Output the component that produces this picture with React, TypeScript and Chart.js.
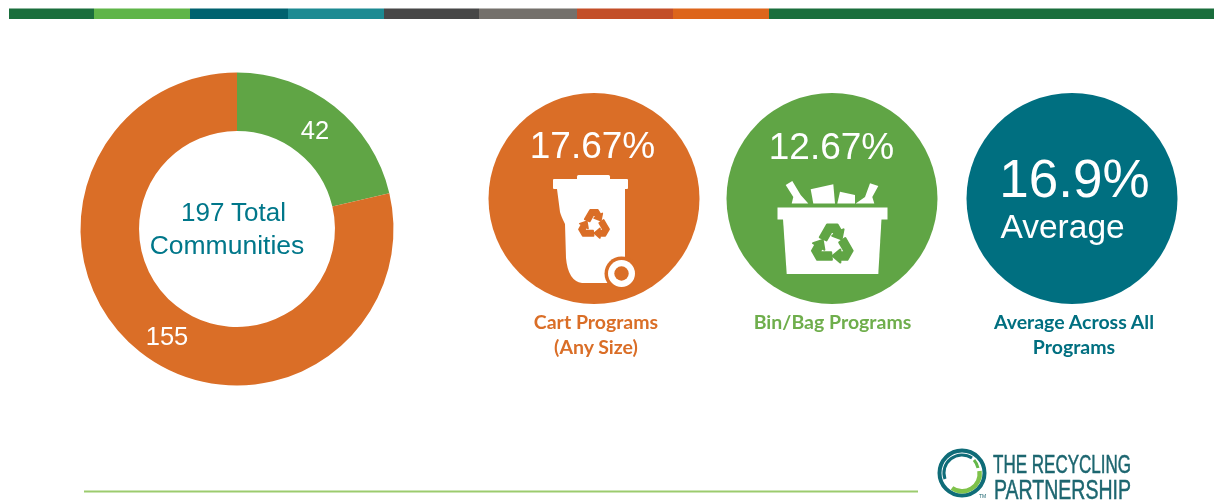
import React, { useEffect, useRef } from "react";
import { Chart, registerables } from "chart.js";

Chart.register(...registerables);

const W = 1214;
const H = 500;

const categories = ["Bin/Bag Programs", "Cart Programs"];
const communityCounts = [42, 155];
const sliceColors = ["#60a545", "#da6e27"];
const totalLabel = ["197 Total", "Communities"];

const stripeStops = [9, 94, 190, 288, 384, 479, 577, 673, 769, 1214];
const stripeColors = ["#1a6e3c", "#5fb548", "#00626f", "#1c8a92", "#474747", "#74706b", "#c34e28", "#dd651b", "#1a6e3c"];

const FONT = "'Liberation Sans', Arial, sans-serif";
const LABEL_FONT = "Lato, 'Open Sans', sans-serif";
const LABEL_SIZE = 19.5;

const sliceLabelPlugin = {
  id: "sliceLabels",
  afterDatasetsDraw(chart: any) {
    const ctx = chart.ctx;
    const meta = chart.getDatasetMeta(0);
    const shift = [[-1, 2.5], [9, 9]];
    ctx.save();
    ctx.fillStyle = "#ffffff";
    ctx.font = `25.5px ${FONT}`;
    ctx.textAlign = "center";
    ctx.textBaseline = "middle";
    meta.data.forEach((arc: any, i: number) => {
      const p = arc.tooltipPosition();
      ctx.fillText(String(chart.data.datasets[0].data[i]), p.x + shift[i][0], p.y + shift[i][1]);
    });
    ctx.restore();
  },
};

function Recycle({ cx, cy, r, fill }: { cx: number; cy: number; r: number; fill: string }) {
  const d = "M-.58 -.36 L-.24 -.95 L.24 -.95 L.408 -.665 L.52 -.73 L.43 -.27 L0 -.43 L.112 -.495 L0 -.69 L-.27 -.22 Z";
  return (
    <g transform={`translate(${cx} ${cy}) scale(${r})`} fill={fill} stroke={fill} strokeWidth={0.1} strokeLinejoin="round">
      {[0, 120, 240].map((a) => (
        <path key={a} d={d} transform={`rotate(${a})`} />
      ))}
    </g>
  );
}

function CartIcon() {
  const bg = "#da6e27";
  return (
    <g>
      <rect x={577} y={175} width={33} height={6} rx={1.5} fill="#fff" />
      <rect x={553} y={179} width={75} height={10} rx={1} fill="#fff" />
      <path
        d="M557 189 L625 189 L625 262 L608 283 L582 283 Q568 281 566 258 L565 224 Q561 216 560 212 Z"
        fill="#fff"
      />
      <circle cx={621.5} cy={273.5} r={17} fill={bg} />
      <circle cx={621.5} cy={273.5} r={13.5} fill="#fff" />
      <circle cx={621.5} cy={273.5} r={7.2} fill={bg} />
      <Recycle cx={594} cy={225} r={16} fill={bg} />
    </g>
  );
}

function BinIcon() {
  return (
    <g fill="#fff">
      <path d="M785.7 185 L792.3 181 L800.7 195 L808.3 203.5 L791.7 203.5 L793.3 197 Z" />
      <path d="M810.7 189.3 L833.3 184.3 L835 203.5 L813.3 203.5 Z" />
      <path d="M840 191.7 L855 195 L855 203.5 L837.3 203.5 Z" />
      <path d="M870 183.3 L878.3 186 L872.3 197 L874.3 203.5 L855.7 203.5 L865 197 Z" />
      <rect x={777.5} y={207.5} width={110} height={12} />
      <path d="M783 219 L881.5 219 L878.3 274 L786.7 274 Z" />
      <Recycle cx={832.3} cy={245} r={21.5} fill="#60a545" />
    </g>
  );
}

function Logo() {
  const ink = "#1d6670";
  const narrow = `'Liberation Sans Narrow', ${FONT}`;
  return (
    <g>
      <circle cx={962} cy={473} r={22.5} fill="none" stroke="#0f6c78" strokeWidth={4} />
      <path d="M945 479 A18 18 0 0 1 972 458" fill="none" stroke="#0f6c78" strokeWidth={3} />
      <path d="M974 460 A18 18 0 0 1 978 468" fill="none" stroke="#66b84a" strokeWidth={3} />
      <path d="M979.5 471 A17.5 17.5 0 0 1 952 488" fill="none" stroke="#7fc24a" strokeWidth={4.5} />
      <text x={993} y={473} fontFamily={narrow} fontSize={25} fill={ink} stroke={ink} strokeWidth={0.5} textLength={138} lengthAdjust="spacingAndGlyphs">THE RECYCLING</text>
      <text x={994} y={499} fontFamily={narrow} fontSize={27} fill={ink} stroke={ink} strokeWidth={0.5} textLength={137} lengthAdjust="spacingAndGlyphs">PARTNERSHIP</text>
      <text x={979} y={498} fontFamily={FONT} fontSize={5} fill={ink}>TM</text>
    </g>
  );
}

export default function App() {
  const ref = useRef<HTMLCanvasElement>(null);

  useEffect(() => {
    const chart = new Chart(ref.current as HTMLCanvasElement, {
      type: "doughnut",
      data: {
        labels: categories,
        datasets: [{ data: communityCounts, backgroundColor: sliceColors, borderWidth: 0 }],
      },
      options: {
        animation: false,
        responsive: false,
        cutout: "62.6%",
        layout: { padding: { left: 80.5, right: 820.5, top: 72.5, bottom: 114.5 } },
        plugins: { legend: { display: false }, tooltip: { enabled: false } },
      },
      plugins: [sliceLabelPlugin],
    } as any);
    return () => chart.destroy();
  }, []);

  const labelProps = { textAnchor: "middle" as const, fontFamily: LABEL_FONT, fontWeight: 700, fontSize: LABEL_SIZE };

  return (
    <div style={{ position: "absolute", left: 0, top: 0, width: W, height: H, overflow: "hidden", background: "#fff", filter: "blur(0.4px)" }}>
      <canvas ref={ref} width={W} height={H} style={{ position: "absolute", left: 0, top: 0 }} />
      <svg width={W} height={H} style={{ position: "absolute", left: 0, top: 0 }}>
        {stripeColors.map((c, i) => (
          <rect key={i} x={stripeStops[i]} y={8.5} width={stripeStops[i + 1] - stripeStops[i]} height={10.5} fill={c} />
        ))}

        <text x={233.5} y={221} textAnchor="middle" fontFamily={FONT} fontSize={26} fill="#00778a">{totalLabel[0]}</text>
        <text x={227} y={254} textAnchor="middle" fontFamily={FONT} fontSize={26.5} fill="#00778a">{totalLabel[1]}</text>

        <circle cx={594} cy={198.5} r={105.5} fill="#da6e27" />
        <text x={592.5} y={158} textAnchor="middle" fontFamily={FONT} fontSize={37} fill="#fff">17.67%</text>
        <CartIcon />
        <text x={596} y={329} {...labelProps} fill="#da6e27">Cart Programs</text>
        <text x={596} y={354} {...labelProps} fill="#da6e27">(Any Size)</text>

        <circle cx={832} cy={198.5} r={105.5} fill="#60a545" />
        <text x={831.5} y={159} textAnchor="middle" fontFamily={FONT} fontSize={37} fill="#fff">12.67%</text>
        <BinIcon />
        <text x={832.5} y={329} {...labelProps} fill="#6fae4c">Bin/Bag Programs</text>

        <circle cx={1072} cy={198.5} r={105.5} fill="#006f80" />
        <text x={1074.5} y={197} textAnchor="middle" fontFamily={FONT} fontSize={53} fill="#fff">16.9%</text>
        <text x={1000.5} y={238} fontFamily={FONT} fontSize={33.5} fill="#fff">Average</text>
        <text x={1074} y={329} {...labelProps} fill="#006f80">Average Across All</text>
        <text x={1074} y={354} {...labelProps} fill="#006f80">Programs</text>

        <rect x={84} y={490.5} width={834} height={2} fill="#9ccb6e" />
        <Logo />
      </svg>
    </div>
  );
}
